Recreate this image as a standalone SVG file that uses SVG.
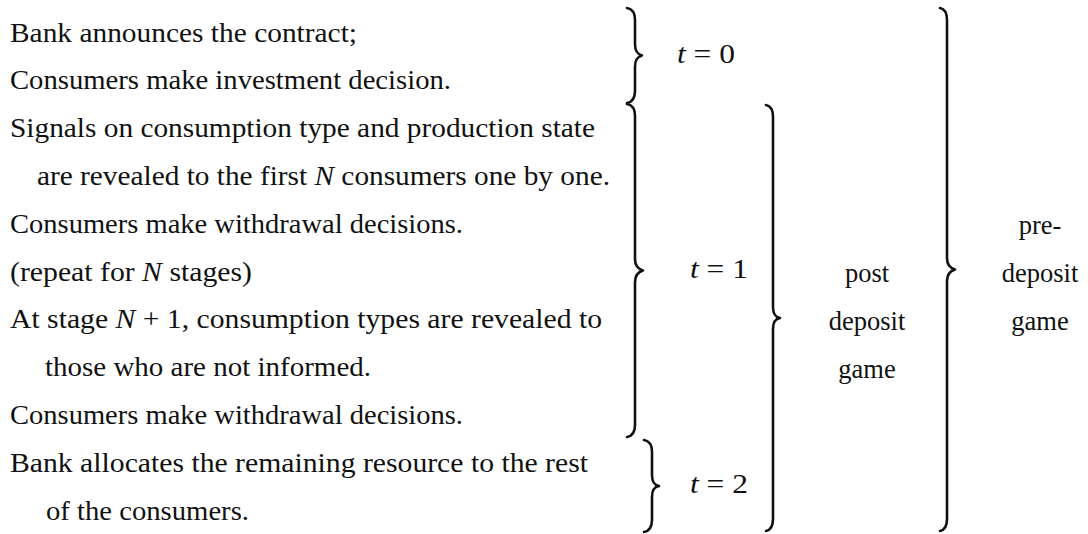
<svg xmlns="http://www.w3.org/2000/svg" width="1088" height="534" viewBox="0 0 1088 534">
<defs>
<style>
text{font-family:"Liberation Serif","Times New Roman",serif;font-size:26.5px;fill:#111}
.it{font-style:italic}
.c{text-anchor:middle}
.br{fill:none;stroke:#111;stroke-width:2.6;stroke-linecap:round;stroke-linejoin:round}
</style>
</defs>
<rect width="1088" height="534" fill="#fff"/>
<g id="events">
<g id="ev1"><text x="10" y="41.5" textLength="347" lengthAdjust="spacingAndGlyphs">Bank announces the contract;</text></g>
<g id="ev2"><text x="10" y="89.3" textLength="441" lengthAdjust="spacingAndGlyphs">Consumers make investment decision.</text></g>
<g id="ev3"><text x="10" y="137.1" textLength="585" lengthAdjust="spacingAndGlyphs">Signals on consumption type and production state</text></g>
<g id="ev4"><text x="37" y="184.9" textLength="573" lengthAdjust="spacingAndGlyphs">are revealed to the first <tspan class="it">N</tspan> consumers one by one.</text></g>
<g id="ev5"><text x="10" y="232.7" textLength="453" lengthAdjust="spacingAndGlyphs">Consumers make withdrawal decisions.</text></g>
<g id="ev6"><text x="10" y="280.5" textLength="242" lengthAdjust="spacingAndGlyphs">(repeat for <tspan class="it">N</tspan> stages)</text></g>
<g id="ev7"><text x="10" y="328.3" textLength="592" lengthAdjust="spacingAndGlyphs">At stage <tspan class="it">N</tspan> + 1, consumption types are revealed to</text></g>
<g id="ev8"><text x="45" y="376.1" textLength="326" lengthAdjust="spacingAndGlyphs">those who are not informed.</text></g>
<g id="ev9"><text x="10" y="423.9" textLength="453" lengthAdjust="spacingAndGlyphs">Consumers make withdrawal decisions.</text></g>
<g id="ev10"><text x="10" y="471.7" textLength="578" lengthAdjust="spacingAndGlyphs">Bank allocates the remaining resource to the rest</text></g>
<g id="ev11"><text x="46" y="519.5" textLength="203" lengthAdjust="spacingAndGlyphs">of the consumers.</text></g>
</g>
<g id="braces">
<path class="br" d="M627 8 C633 9 635 13 635 20 L635 44 C635 51 637 54 642 55.5 C637 57 635 60 635 67 L635 91 C635 98 633 102 627 103"/>
<path class="br" d="M627 104 C633 105 635 109 635 116 L635 259 C635 266 638 269 643 270.5 C638 272 635 275 635 282 L635 425 C635 432 633 436 627 437"/>
<path class="br" d="M644 440 C650 441 652 445 652 452 L652 475 C652 482 654 485 659 486 C654 487 652 490 652 497 L652 520 C652 527 650 531 644 532"/>
<path class="br" d="M766 105 C771 106 773 110 773 117 L773 307 C773 314 775 317 780 318 C775 319 773 322 773 329 L773 519 C773 526 771 530 766 531"/>
<path class="br" d="M940 8 C945 9 947 13 947 20 L947 258 C947 265 950 268 955 269.5 C950 271 947 274 947 281 L947 519 C947 526 945 530 940 531"/>
</g>
<g id="stage-t0"><text x="677" y="63" textLength="58" lengthAdjust="spacingAndGlyphs"><tspan class="it">t</tspan> = 0</text></g>
<g id="stage-t1"><text x="690" y="278" textLength="58" lengthAdjust="spacingAndGlyphs"><tspan class="it">t</tspan> = 1</text></g>
<g id="stage-t2"><text x="690" y="493" textLength="58" lengthAdjust="spacingAndGlyphs"><tspan class="it">t</tspan> = 2</text></g>
<g id="post-deposit-game">
<text class="c" x="867" y="282">post</text>
<text class="c" x="867" y="330">deposit</text>
<text class="c" x="867" y="378">game</text>
</g>
<g id="pre-deposit-game">
<text class="c" x="1040" y="234">pre-</text>
<text class="c" x="1040" y="282">deposit</text>
<text class="c" x="1040" y="330">game</text>
</g>
</svg>
